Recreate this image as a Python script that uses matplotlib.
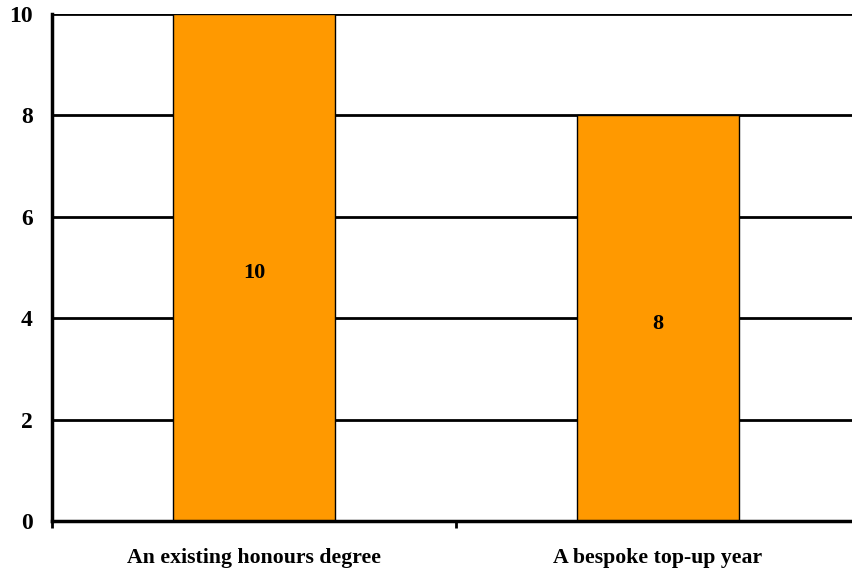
import matplotlib
matplotlib.use('Agg')
from matplotlib import pyplot as plt

categories = ['An existing honours degree', 'A bespoke top-up year']
counts = [10, 8]
yticks = [0, 2, 4, 6, 8, 10]

plt.rcParams['font.family'] = ['Liberation Serif', 'DejaVu Serif']
plt.rcParams['font.weight'] = 'bold'

fig = plt.figure(figsize=(8.52, 5.71), dpi=100)
# plot area runs a little past the right edge of the figure
ax = fig.add_axes([52 / 852, 50 / 571, 808 / 852, 507 / 571])

xpos = [i + 0.5 for i in range(len(categories))]
bars = ax.bar(xpos, counts, width=0.4, color='#FF9900',
              edgecolor='black', linewidth=1, zorder=3)

for b, v in zip(bars, counts):
    ax.annotate(str(v), (b.get_x() + b.get_width() / 2, v / 2),
                xytext=(0, -6), textcoords='offset pixels',
                ha='center', va='center', fontsize=16, fontweight='bold',
                zorder=4)

ax.set_xlim(0, len(categories))
ax.set_ylim(0, 10)
ax.set_yticks(yticks)
ax.set_yticklabels([str(t) for t in yticks], fontsize=17, fontweight='bold')
ax.tick_params(axis='y', length=0, pad=14)

# category boundaries carry the ticks, labels sit under the centres
ax.set_xticks(range(len(categories) + 1))
ax.set_xticklabels([])
ax.set_xticks(xpos, minor=True)
ax.set_xticklabels(categories, minor=True, fontsize=15.7, fontweight='bold')
ax.tick_params(axis='x', which='major', length=5, width=2, direction='out')
ax.tick_params(axis='x', which='minor', length=0, pad=19.5)

ax.grid(axis='y', color='black', linewidth=2, zorder=1)
for side in ['top', 'right']:
    ax.spines[side].set_visible(False)
ax.spines['left'].set_linewidth(2.5)
ax.spines['bottom'].set_linewidth(2.5)
ax.spines['left'].set_zorder(5)
ax.spines['bottom'].set_zorder(5)

fig.savefig('out.png', dpi=100)
